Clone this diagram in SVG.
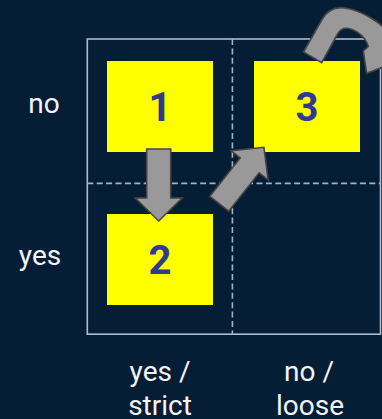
<svg xmlns="http://www.w3.org/2000/svg" width="382" height="419" viewBox="0 0 382 419">
  <style>
    .frame { fill: none; stroke: #aebccb; stroke-width: 1.6; }
    .grid { fill: none; stroke: #9fb3c7; stroke-width: 1.6; stroke-dasharray: 6 3.4; }
    .box { fill: #ffff00; }
    .num { font-family: Roboto, "Liberation Sans", sans-serif; font-weight: bold; font-size: 40px; fill: #2e3b8e; text-anchor: middle; }
    .lbl { font-family: Roboto, "Liberation Sans", sans-serif; font-size: 28px; fill: #f2f4f7; text-anchor: middle; }
    .arrow { fill: #999999; stroke: #454545; stroke-width: 1.6; stroke-linejoin: miter; }
  </style>
  <defs>
    <!-- block arrow pointing along +x, tail centre at the origin -->
    <path id="blockArrow" d="M0,-12 L49,-12 L49,-23.5 L72,0 L49,23.5 L49,12 L0,12 Z"/>
  </defs>

  <rect x="0" y="0" width="382" height="419" fill="#061d36"/>

  <!-- quadrant frame and dashed dividers -->
  <g id="grid">
    <rect class="frame" x="87.3" y="39" width="293.2" height="295.2"/>
    <line class="grid" x1="232.4" y1="39" x2="232.4" y2="334"/>
    <line class="grid" x1="87.3" y1="183.4" x2="380.5" y2="183.4"/>
  </g>

  <!-- axis labels -->
  <g id="row-labels">
    <text class="lbl" x="44" y="113">no</text>
    <text class="lbl" x="40" y="265">yes</text>
  </g>
  <g id="col-labels">
    <text class="lbl" x="160" y="381">yes /</text>
    <text class="lbl" x="160" y="415">strict</text>
    <text class="lbl" x="309" y="381">no /</text>
    <text class="lbl" x="310" y="415">loose</text>
  </g>

  <!-- nodes -->
  <g id="node1">
    <rect class="box" x="107" y="61" width="106" height="91"/>
    <text class="num" x="160" y="120.5">1</text>
  </g>
  <g id="node2">
    <rect class="box" x="107" y="214" width="106" height="91"/>
    <text class="num" x="160" y="273.5">2</text>
  </g>
  <g id="node3">
    <rect class="box" x="254" y="61" width="106" height="91"/>
    <text class="num" x="307" y="120.5">3</text>
  </g>

  <!-- connectors -->
  <g id="connectors">
    <use href="#blockArrow" class="arrow" transform="translate(158.7,149) rotate(90)"/>
    <use href="#blockArrow" class="arrow" transform="translate(219.3,203.8) rotate(-51.7)"/>
    <path class="arrow" d="M303.5,52 L322,19.5 C328,9 337,6 348,8.5 C362,11.5 380,21 394,38 L392,58 L396,62 L366.7,73.3 L363.3,51 L368.3,46.5 C366,38 357,29.5 347,28.3 C342,28 339.5,30.5 337.8,33.5 L321.7,62.7 Z"/>
  </g>
</svg>
